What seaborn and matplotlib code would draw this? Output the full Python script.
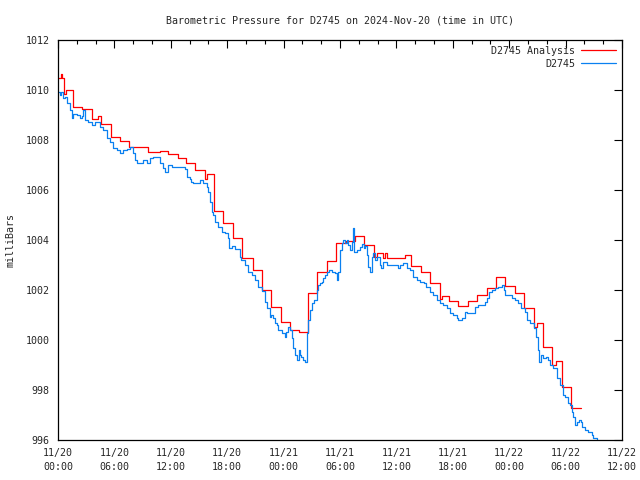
import numpy as np
import pandas as pd
import matplotlib
matplotlib.use("Agg")
import matplotlib.pyplot as plt
import matplotlib.dates as mdates
import seaborn as sns

# hours after 2024-11-20 00:00 UTC, pressure in mb
start = pd.Timestamp("2024-11-20 00:00")

obs_hours = [0.03, 0.2, 0.32, 0.57, 0.74, 0.92, 1.28, 1.45, 1.63, 1.98,
             2.34, 2.52, 2.69, 2.87, 3.23, 3.58, 3.93, 4.29, 4.47, 4.82,
             5.18, 5.53, 5.9, 6.24, 6.6, 6.95, 7.3, 7.66, 8.0, 8.2,
             8.37, 8.72, 9.08, 9.43, 9.79, 10.14, 10.5, 10.85, 11.2, 11.4,
             11.7, 12.1, 12.45, 12.8, 13.15, 13.5, 13.7, 14.0, 14.2, 14.4,
             14.75, 15.1, 15.45, 15.8, 16.0, 16.2, 16.35, 16.5, 16.7, 17.06,
             17.4, 17.8, 18.1, 18.2, 18.5, 18.8, 19.36, 19.5, 19.9, 20.25,
             20.6, 20.96, 21.3, 21.67, 22.0, 22.2, 22.4, 22.6, 22.7, 22.9,
             23.1, 23.3, 23.4, 23.8, 24.15, 24.3, 24.5, 24.7, 24.9, 25.0,
             25.2, 25.4, 25.6, 25.75, 25.9, 26.1, 26.3, 26.5, 26.6, 26.8,
             27.0, 27.2, 27.5, 27.7, 27.9, 28.05, 28.2, 28.4, 28.6, 28.8,
             29.1, 29.5, 29.65, 29.8, 30.0, 30.2, 30.35, 30.5, 30.7, 30.9,
             31.1, 31.25, 31.4, 31.5, 31.8, 32.13, 32.3, 32.5, 32.7, 32.84,
             33.0, 33.2, 33.37, 33.55, 33.7, 33.9, 34.26, 34.4, 34.6, 34.97,
             36.03, 36.2, 36.4, 36.74, 37.1, 37.45, 37.8, 38.2, 38.5, 38.9,
             39.2, 39.6, 39.93, 40.3, 40.6, 41.0, 41.35, 41.7, 42.06, 42.4,
             42.6, 42.95, 43.3, 43.5, 44.0, 44.37, 44.7, 45.1, 45.4, 45.6,
             45.8, 46.14, 46.5, 46.85, 47.2, 47.4, 47.56, 47.9, 48.27, 48.6,
             48.98, 49.3, 49.7, 49.86, 50.2, 50.6, 50.9, 51.1, 51.2, 51.35,
             51.6, 51.95, 52.1, 52.35, 52.7, 53.05, 53.4, 53.75, 53.9, 54.3,
             54.5, 54.65, 54.83, 55.0, 55.2, 55.4, 55.6, 55.75, 56.07, 56.4,
             56.78, 56.95, 57.3]
obs_mb = [1009.93, 1009.8, 1009.93, 1009.67, 1009.73, 1009.5, 1009.2, 1008.87, 1009.04, 1009.0,
          1008.87, 1008.96, 1009.2, 1008.8, 1008.73, 1008.6, 1008.73, 1008.73, 1008.53, 1008.4,
          1008.07, 1007.93, 1007.67, 1007.6, 1007.47, 1007.6, 1007.63, 1007.73, 1007.47, 1007.2,
          1007.07, 1007.07, 1007.2, 1007.1, 1007.27, 1007.31, 1007.31, 1007.1, 1006.9, 1006.73,
          1007.0, 1006.93, 1006.93, 1006.93, 1006.93, 1006.83, 1006.53, 1006.43, 1006.33, 1006.27,
          1006.27, 1006.4, 1006.27, 1006.13, 1005.93, 1005.53, 1005.13, 1005.0, 1004.73, 1004.51,
          1004.33, 1004.27, 1004.07, 1003.67, 1003.75, 1003.63, 1003.33, 1003.2, 1003.0, 1002.73,
          1002.6, 1002.4, 1002.13, 1001.98, 1001.53, 1001.27, 1001.27, 1000.93, 1001.0, 1000.87,
          1000.67, 1000.6, 1000.4, 1000.27, 1000.13, 1000.33, 1000.53, 1000.4, 1000.07, 999.67,
          999.4, 999.2, 999.6, 999.4, 999.33, 999.2, 999.13, 1000.27, 1000.8, 1001.2,
          1001.47, 1001.6, 1002.0, 1002.2, 1002.27, 1002.33, 1002.47, 1002.6, 1002.73, 1002.8,
          1002.73, 1002.67, 1002.4, 1002.73, 1003.6, 1003.87, 1004.0, 1003.87, 1004.0, 1003.8,
          1003.6, 1003.93, 1004.47, 1003.53, 1003.6, 1003.73, 1003.85, 1003.67, 1003.76, 1003.4,
          1002.93, 1002.73, 1003.33, 1003.47, 1003.2, 1003.33, 1003.0, 1002.87, 1003.13, 1003.0,
          1003.0, 1002.87, 1003.0, 1003.07, 1002.87, 1002.8, 1002.53, 1002.4, 1002.33, 1002.27,
          1002.13, 1001.93, 1001.8, 1001.6, 1001.47, 1001.4, 1001.27, 1001.07, 1001.0, 1000.87,
          1000.8, 1000.9, 1001.13, 1001.09, 1001.1, 1001.33, 1001.4, 1001.4, 1001.53, 1001.67,
          1001.93, 1002.0, 1002.07, 1002.13, 1002.2, 1002.0, 1001.8, 1001.8, 1001.67, 1001.6,
          1001.47, 1001.27, 1001.13, 1000.8, 1000.67, 1000.47, 1000.13, 999.6, 999.13, 999.4,
          999.27, 999.33, 999.2, 999.0, 998.87, 998.47, 998.2, 997.8, 997.73, 997.47,
          997.4, 997.13, 996.93, 996.6, 996.73, 996.8, 996.73, 996.53, 996.4, 996.33,
          996.2, 996.07, 995.9]

ana_hours = [0, 0.3, 0.45, 0.65, 0.9, 1.6, 2.6, 3.6, 4.3, 4.6,
             5.6, 6.6, 7.6, 9.6, 10.8, 11.7, 12.8, 13.6, 14.6, 15.6,
             15.9, 16.6, 17.6, 18.6, 19.6, 20.7, 21.7, 22.7, 23.7, 24.7,
             25.6, 26.6, 27.6, 28.6, 29.6, 30.6, 31.6, 32.6, 33.6, 33.9,
             34.6, 34.8, 35.0, 36.9, 37.5, 38.6, 39.6, 40.6, 40.8, 41.6,
             42.6, 43.6, 44.6, 45.6, 46.6, 47.6, 48.6, 49.6, 50.6, 51.0,
             51.6, 52.6, 53.0, 53.6, 54.6, 55.6]
ana_mb = [1010.47, 1010.63, 1010.47, 1009.85, 1009.99, 1009.33, 1009.24, 1008.83, 1008.97, 1008.63,
          1008.11, 1007.96, 1007.71, 1007.53, 1007.57, 1007.43, 1007.27, 1007.07, 1006.80, 1006.44,
          1006.63, 1005.16, 1004.69, 1004.07, 1003.27, 1002.80, 1002.02, 1001.31, 1000.73, 1000.40,
          1000.31, 1001.87, 1002.71, 1003.17, 1003.90, 1003.97, 1004.16, 1003.80, 1003.33, 1003.50,
          1003.27, 1003.47, 1003.27, 1003.40, 1002.97, 1002.71, 1002.27, 1001.63, 1001.77, 1001.56,
          1001.36, 1001.56, 1001.80, 1002.10, 1002.51, 1002.16, 1001.89, 1001.29, 1000.51, 1000.67,
          999.71, 999.00, 999.16, 998.11, 997.29, 997.29]

obs_t = start + pd.to_timedelta(obs_hours, unit="h")
ana_t = start + pd.to_timedelta(ana_hours, unit="h")

sns.set_style("white")
plt.rcParams["font.family"] = ["DejaVu Sans Mono"]
plt.rcParams["font.size"] = 7.2

fig = plt.figure(figsize=(6.4, 4.8), dpi=100)
ax = fig.add_axes([58 / 640, 40 / 480, 564 / 640, 400 / 480])

sns.lineplot(x=ana_t, y=ana_mb, ax=ax, color="#ff0000", lw=0.9,
             drawstyle="steps-post", estimator=None, label="D2745 Analysis")
sns.lineplot(x=obs_t, y=obs_mb, ax=ax, color="#0a80f0", lw=0.9,
             drawstyle="steps-post", estimator=None, label="D2745")

ax.set_xlim(start, start + pd.Timedelta(hours=60))
ax.set_ylim(996, 1012)
ax.set_yticks(np.arange(996, 1013, 2))
ax.xaxis.set_major_locator(mdates.HourLocator(byhour=range(0, 24, 6)))
ax.xaxis.set_minor_locator(mdates.HourLocator(byhour=range(0, 24, 2)))
ax.xaxis.set_major_formatter(mdates.DateFormatter("%m/%d\n%H:%M"))
ax.tick_params(which="both", direction="in", top=True, right=True, color="black")
ax.tick_params(which="major", length=6, width=0.8, labelsize=7.2, pad=6)
ax.tick_params(which="minor", length=3, width=0.8)
for lbl in ax.get_xticklabels():
    lbl.set_linespacing(1.5)
for s in ax.spines.values():
    s.set_color("black")
    s.set_linewidth(0.9)

ax.set_xlabel("")
ax.set_ylabel("milliBars", fontsize=7.2, labelpad=7)
ax.set_title("Barometric Pressure for D2745 on 2024-Nov-20 (time in UTC)", fontsize=7.2, pad=12)
ax.legend(loc="upper right", frameon=False, markerfirst=False, handlelength=3.5,
          fontsize=7.2, borderaxespad=0.2, labelspacing=0.3, handletextpad=0.6)

fig.savefig("out.png", dpi=100)
